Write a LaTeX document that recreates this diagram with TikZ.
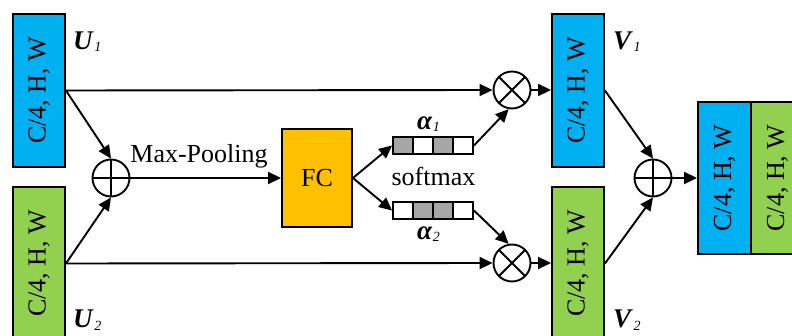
\documentclass[tikz,border=0pt]{standalone}
\usepackage{fontspec}
\setmainfont{Liberation Serif}
\usetikzlibrary{arrows.meta,calc}
\definecolor{cblue}{RGB}{0,176,240}
\definecolor{cgreen}{RGB}{146,208,80}
\definecolor{corange}{RGB}{255,192,0}
\definecolor{cgray}{RGB}{166,166,166}
\newcommand{\mylab}[2]{{\fontsize{27}{30}\selectfont\textbf{\textit{#1}}}\kern0.5pt\raisebox{-2pt}{\fontsize{14}{14}\selectfont\textit{#2}}}
\begin{document}
\begin{tikzpicture}[x=1pt,y=-1pt,
  every node/.style={font=\fontsize{26}{30}\selectfont},
  lw/.style={line width=1.9pt},
  arr/.style={lw,-{Triangle[length=13pt,width=12pt]}},
  fmap/.style={draw,lw,minimum width=52pt,minimum height=153pt,inner sep=0pt},
  txt/.style={rotate=90,inner sep=0pt},
  opcirc/.style={circle,draw,lw,minimum size=37pt,inner sep=0pt},
  plusop/.style={opcirc,path picture={\draw[lw] (path picture bounding box.north) -- (path picture bounding box.south) (path picture bounding box.west) -- (path picture bounding box.east);}},
  timesop/.style={opcirc,path picture={\draw[lw] (path picture bounding box.north west) -- (path picture bounding box.south east) (path picture bounding box.north east) -- (path picture bounding box.south west);}},
  cell/.style={draw,lw,minimum width=20pt,minimum height=17pt,inner sep=0pt},
  lab/.style={inner sep=0pt,anchor=base west}]
\useasboundingbox (0,0) rectangle (792,336);
\clip (0,0) rectangle (792,336);
% feature maps
\node[fmap,fill=cblue] (u1) at (39,90.5) {};
\node[txt] at (u1.center) {C/4, H, W};
\node[fmap,fill=cgreen] (u2) at (39,263.5) {};
\node[txt] at (u2.center) {C/4, H, W};
\node[fmap,fill=cblue] (v1) at (578,90.5) {};
\node[txt] at (v1.center) {C/4, H, W};
\node[fmap,fill=cgreen] (v2) at (578,263.5) {};
\node[txt] at (v2.center) {C/4, H, W};
\node[fmap,fill=cblue,minimum width=53pt,minimum height=152pt] (o1) at (724.5,178) {};
\node[txt] at (o1.center) {C/4, H, W};
\node[fmap,fill=cgreen,minimum width=53pt,minimum height=152pt] (o2) at (777.5,178) {};
\node[txt] at (o2.center) {C/4, H, W};
% labels
\node[lab] (lu1) at (73,50) {\mylab{U}{1}};
\node[lab] (lu2) at (73,328) {\mylab{U}{2}};
\node[lab] (lv1) at (613,50) {\mylab{V}{1}};
\node[lab] (lv2) at (613,328) {\mylab{V}{2}};
% operators
\node[plusop] (p1) at (111,178) {};
\node[plusop] (p2) at (653,178) {};
\node[timesop] (m1) at (512,90) {};
\node[timesop] (m2) at (512,263) {};
% FC
\node[draw,lw,fill=corange,minimum width=70pt,minimum height=98pt,inner sep=0pt] (fc) at (317,178) {FC};
\node[inner sep=0pt,anchor=base] (mp) at (199,163) {Max-Pooling};
\node[inner sep=0pt,anchor=base] (sm) at (433.5,186) {softmax};
% attention vectors
\node[cell,fill=cgray] (a1c1) at (403,145.5) {};
\node[cell,fill=white] (a1c2) at (423,145.5) {};
\node[cell,fill=cgray] (a1c3) at (443,145.5) {};
\node[cell,fill=white] (a1c4) at (463,145.5) {};
\node[cell,fill=white] (a2c1) at (403,210.5) {};
\node[cell,fill=cgray] (a2c2) at (423,210.5) {};
\node[cell,fill=cgray] (a2c3) at (443,210.5) {};
\node[cell,fill=white] (a2c4) at (463,210.5) {};
\node[lab] (la1) at (417,130) {\mylab{α}{1}};
\node[lab] (la2) at (417,240) {\mylab{α}{2}};
% connectors
\draw[arr] (u1.east) -- (m1.west);
\draw[arr] (u2.east) -- (m2.west);
\draw[arr] (u1.east) -- (p1.north);
\draw[arr] (u2.east) -- (p1.south);
\draw[arr] (p1.east) -- (fc.west);
\draw[arr] (fc.east) -- (a1c1.west);
\draw[arr] (fc.east) -- (a2c1.west);
\draw[arr] (a1c4.east) -- (m1.260);
\draw[arr] (a2c4.east) -- (m2.100);
\draw[arr] (m1.east) -- (v1.west |- m1.east);
\draw[arr] (m2.east) -- (v2.west |- m2.east);
\draw[arr] (v1.east) -- (p2.north);
\draw[arr] (v2.east) -- (p2.south);
\draw[arr] (p2.east) -- (o1.west);
\end{tikzpicture}
\end{document}
